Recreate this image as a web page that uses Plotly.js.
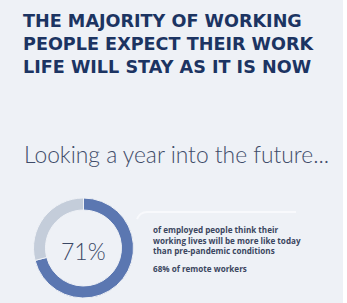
<!DOCTYPE html>
<html>
<head>
<meta charset="utf-8">
<script src="https://cdn.plot.ly/plotly-3.0.1.min.js"></script>
<style>html,body{margin:0;padding:0;background:#ffffff;}#chart{width:347px;height:303px;}</style>
</head>
<body>
<div id="chart"></div>
<script>
var titleLines = ["THE MAJORITY OF WORKING", "PEOPLE EXPECT THEIR WORK", "LIFE WILL STAY AS IT IS NOW"];
var subtitle = "Looking a year into the future...";
var labels = ["More like today", "More like pre-pandemic conditions"];
var values = [71, 29];
var sliceColors = ["#5b77b1", "#c4cdda"];
var descLines = ["of employed people think their", "working lives will be more like today", "than pre-pandemic conditions"];
var remoteShare = 68;

var W = 347, H = 303;
function px(x) { return x / W; }
function py(y) { return 1 - y / H; }

var total = values.reduce(function (a, b) { return a + b; }, 0);
var share = Math.round(values[0] / total * 100);

var cx = 83.5, cy = 248, r = 50;

var data = [{
  type: "pie",
  labels: labels,
  values: values,
  hole: 0.76,
  sort: false,
  direction: "clockwise",
  rotation: 0,
  textinfo: "none",
  hoverinfo: "label+percent",
  marker: { colors: sliceColors, line: { color: "#eef1f6", width: 1 } },
  domain: { x: [px(cx - r), px(cx + r)], y: [py(cy + r), py(cy - r)] },
  showlegend: false
}];

var annotations = [
  { text: titleLines.join("<br>"), x: px(21), y: py(44), xref: "paper", yref: "paper", xanchor: "left", yanchor: "middle", align: "left", showarrow: false,
    font: { family: "DejaVu Sans", size: 17.6, color: "#1c3462", weight: 700 } },
  { text: share + "%", x: px(cx), y: py(251), xref: "paper", yref: "paper", xanchor: "center", yanchor: "middle", showarrow: false,
    font: { family: "Lato", size: 23, color: "#3a4764", weight: 300 } },
  { text: subtitle, x: px(22), y: py(154), xref: "paper", yref: "paper", xanchor: "left", yanchor: "middle", showarrow: false,
    font: { family: "Lato", size: 22.8, color: "#3f4c69", weight: 300 } },
  { text: descLines.join("<br>"), x: px(151), y: py(240), xref: "paper", yref: "paper", xanchor: "left", yanchor: "middle", align: "left", showarrow: false,
    font: { family: "Open Sans", size: 8.1, color: "#3b4660", weight: 700 } },
  { text: remoteShare + "% of remote workers", x: px(151), y: py(268), xref: "paper", yref: "paper", xanchor: "left", yanchor: "middle", align: "left", showarrow: false,
    font: { family: "Open Sans", size: 8.1, color: "#3b4660", weight: 700 } }
];

var layout = {
  width: W, height: H,
  margin: { l: 0, r: 0, t: 0, b: 0 },
  paper_bgcolor: "#ffffff",
  plot_bgcolor: "#eef1f6",
  shapes: [
    { type: "rect", xref: "paper", yref: "paper", x0: 0, x1: px(343), y0: 0, y1: 1, fillcolor: "#eef1f6", line: { width: 0 }, layer: "below" },
    { type: "path", xref: "paper", yref: "paper", path: "M " + px(137) + " " + py(219) + " Q " + px(140) + " " + py(212) + " " + px(147) + " " + py(212) + " L " + px(296) + " " + py(212),
      line: { color: "#f8f9fc", width: 2 }, layer: "below" }
  ],
  annotations: annotations
};

Plotly.newPlot("chart", data, layout, { staticPlot: true, displayModeBar: false });
</script>
</body>
</html>
